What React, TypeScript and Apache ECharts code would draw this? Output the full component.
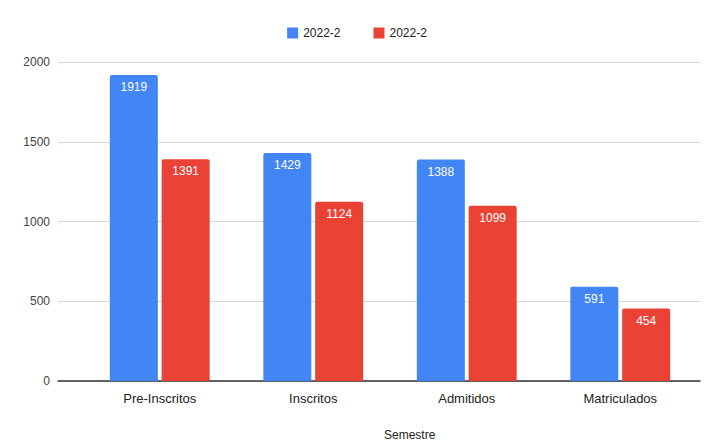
import React, { useEffect, useRef } from "react";
import * as echarts from "echarts";

const categories = ["Pre-Inscritos", "Inscritos", "Admitidos", "Matriculados"];
const seriesNames = ["2022-2", "2022-2"];
const seriesA = [1919, 1429, 1388, 591];
const seriesB = [1391, 1124, 1099, 454];
const yTicks = [0, 500, 1000, 1500, 2000];

export default function App() {
  const ref = useRef<HTMLDivElement>(null);
  useEffect(() => {
    if (!ref.current) return;
    const chart = echarts.init(ref.current, null, { renderer: "svg" });
    const font = "Liberation Sans, Arial, sans-serif";
    chart.setOption({
      animation: false,
      backgroundColor: "#ffffff",
      textStyle: { fontFamily: font },
      legend: {
        top: 22,
        left: "center",
        itemWidth: 11,
        itemHeight: 11,
        itemGap: 33,
        icon: "rect",
        textStyle: { color: "#222", fontSize: 12, fontFamily: font },
        data: [
          { name: "A", itemStyle: { color: "#4285F4" } },
          { name: "B", itemStyle: { color: "#EA4335" } },
        ],
        formatter: (n: string) => (n === "A" ? seriesNames[0] : seriesNames[1]),
      },
      grid: [
        { left: 83, right: 17, top: 62, bottom: 60 },
        { left: 58, right: 14, top: 62, bottom: 60 },
      ],
      xAxis: [
        {
          gridIndex: 0,
          type: "category",
          data: categories,
          axisLine: { show: false },
          axisTick: { show: false },
          axisLabel: { color: "#222", fontSize: 13, margin: 11, fontFamily: font },
        },
        {
          gridIndex: 1,
          type: "category",
          data: ["x"],
          axisLine: { show: true, lineStyle: { color: "#333", width: 1.5 } },
          axisTick: { show: false },
          axisLabel: { show: false },
        },
      ],
      yAxis: [
        {
          gridIndex: 0,
          type: "value",
          min: 0,
          max: 2000,
          interval: 500,
          show: false,
          splitLine: { show: false },
        },
        {
          gridIndex: 1,
          type: "value",
          min: yTicks[0],
          max: yTicks[yTicks.length - 1],
          interval: 500,
          axisLine: { show: false },
          axisTick: { show: false },
          axisLabel: {
            color: "#444",
            fontSize: 12,
            margin: 8,
            fontFamily: font,
            formatter: (v: number) => String(v),
          },
          splitLine: { lineStyle: { color: "#d9d9d9", width: 1 } },
        },
      ],
      graphic: [
        {
          type: "text",
          left: 384,
          top: 429,
          style: { text: "Semestre", fill: "#222", fontSize: 12, fontFamily: font, align: "center" },
        },
      ],
      series: [
        {
          name: "A",
          type: "bar",
          xAxisIndex: 0,
          yAxisIndex: 0,
          data: seriesA,
          barWidth: 48,
          barGap: "8%",
          itemStyle: { color: "#4285F4", borderRadius: [2, 2, 0, 0] },
          label: {
            show: true,
            position: "insideTop",
            distance: 6,
            color: "#fff",
            fontSize: 12,
            fontFamily: font,
          },
        },
        {
          name: "B",
          type: "bar",
          xAxisIndex: 0,
          yAxisIndex: 0,
          data: seriesB,
          barWidth: 48,
          barGap: "8%",
          itemStyle: { color: "#EA4335", borderRadius: [2, 2, 0, 0] },
          label: {
            show: true,
            position: "insideTop",
            distance: 6,
            color: "#fff",
            fontSize: 12,
            fontFamily: font,
          },
        },
      ],
    });
    return () => chart.dispose();
  }, []);
  return <div ref={ref} style={{ width: 714, height: 441, position: "absolute", left: 0, top: 0 }} />;
}
